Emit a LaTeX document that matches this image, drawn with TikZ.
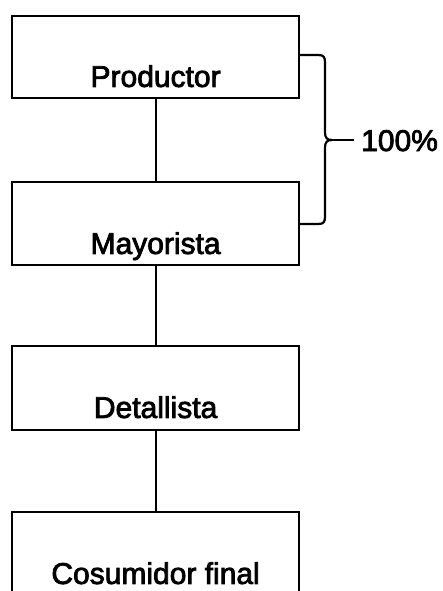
\documentclass[tikz,border=0pt]{standalone}
\usepackage{fontspec}
\setmainfont{Liberation Sans}[BoldFont=Liberation Sans, BoldFeatures={FakeBold=2.6}]
\begin{document}
\begin{tikzpicture}[x=1pt,y=1pt,
  stage/.style={draw=black, line width=2.2pt, rectangle, inner sep=0pt,
    minimum width=287pt, anchor=south west,
    font=\fontsize{30}{36}\selectfont\bfseries},
  link/.style={line width=2.2pt},
  brace/.style={line width=2.2pt, line join=round}]
\clip (0,0) rectangle (443,-591);
\useasboundingbox (0,0) rectangle (443,-591);

% chain of stages, text set low in each box
\node[stage, text height=71pt, text depth=11pt] (prod) at (11,-99) {Productor};
\node[stage, text height=72pt, text depth=11pt] (may)  at (11,-266) {Mayorista};
\node[stage, text height=72pt, text depth=12pt] (det)  at (11,-431) {Detallista};
\node[stage, text height=72pt, text depth=12pt] (cons) at (11,-597) {Cosumidor final};

\draw[link] (prod.south) -- (may.north);
\draw[link] (may.south) -- (det.north);
\draw[link] (det.south) -- (cons.north);

% brace spanning the first two stages
\coordinate (bt) at (298,-55);
\coordinate (bb) at (298,-224);
\coordinate (tip) at (332,-140);
\draw[brace] (bt) -- (318,-55) .. controls (324,-55) and (325,-57) .. (325,-63)
  -- (325,-132) .. controls (325,-138) and (327,-140) .. (tip)
  .. controls (327,-140) and (325,-142) .. (325,-148)
  -- (325,-216) .. controls (325,-222) and (324,-224) .. (318,-224) -- (bb);
\coordinate (lead) at (354,-140);
\draw[brace] (tip) -- (lead);
\node[anchor=base west, inner sep=0pt, font=\fontsize{30}{36}\selectfont\bfseries] (pct) at (361,-151) {100\%};
\end{tikzpicture}
\end{document}
